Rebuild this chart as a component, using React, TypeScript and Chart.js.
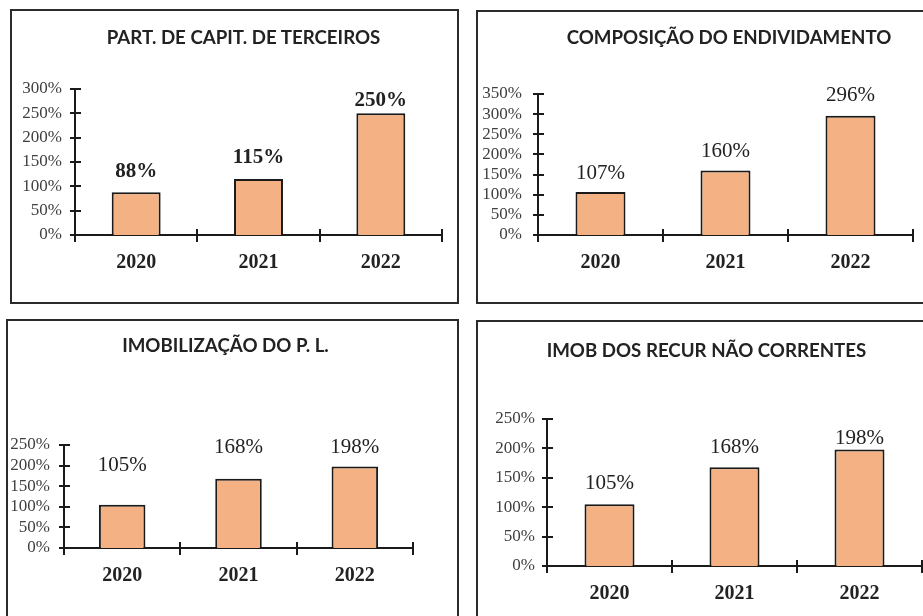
import React, { useEffect, useRef } from 'react';
import { Chart, registerables } from 'chart.js';

Chart.register(...registerables);

// ---------- data ----------
const YEARS = ['2020', '2021', '2022'];
const TITLES = [
  'PART. DE CAPIT. DE TERCEIROS',
  'COMPOSIÇÃO DO ENDIVIDAMENTO',
  'IMOBILIZAÇÃO DO P. L.',
  'IMOB DOS RECUR NÃO CORRENTES',
];
const PART_CAPIT_TERCEIROS = [88, 115, 250];
const COMPOSICAO_ENDIVIDAMENTO = [107, 160, 296];
const IMOBILIZACAO_PL = [105, 168, 198];
const IMOB_RECUR_NAO_CORRENTES = [105, 168, 198];
const SERIES = [PART_CAPIT_TERCEIROS, COMPOSICAO_ENDIVIDAMENTO, IMOBILIZACAO_PL, IMOB_RECUR_NAO_CORRENTES];
const Y_MAX = [300, 350, 250, 250];
const Y_STEP = 50;

// ---------- layout / style ----------
const SERIF = '"Liberation Serif", "Times New Roman", serif';
const BAR_FILL = '#F4B183';
const INK = '#1a1a1a';
const BORDER = 2;

type Layout = {
  box: { left: number; top: number; width: number; height: number };
  area: { left: number; top: number; right: number; bottom: number };
  title: { cx: number; cy: number };
  valueBold: boolean;
  labelGaps: number[];
  yPad: number;
};

const LAYOUT: Layout[] = [
  { box: { left: 10, top: 9, width: 449, height: 295 }, area: { left: 75, top: 89, right: 442, bottom: 235 }, title: { cx: 243.5, cy: 37 }, valueBold: true, labelGaps: [15, 16, 7], yPad: 13 },
  { box: { left: 476, top: 10, width: 470, height: 294 }, area: { left: 538, top: 94, right: 913, bottom: 235 }, title: { cx: 729, cy: 37 }, valueBold: false, labelGaps: [13, 14, 15], yPad: 16 },
  { box: { left: 6, top: 319, width: 453, height: 400 }, area: { left: 64, top: 445, right: 413, bottom: 548 }, title: { cx: 225.5, cy: 345 }, valueBold: false, labelGaps: [34, 26, 13], yPad: 14 },
  { box: { left: 476, top: 320, width: 470, height: 400 }, area: { left: 547, top: 419, right: 922, bottom: 566 }, title: { cx: 706.5, cy: 350 }, valueBold: false, labelGaps: [15, 14, 6], yPad: 12 },
];

const X_AXIS_H = 40;

const crossTicks = {
  id: 'crossTicks',
  afterDraw(chart: any) {
    const { ctx, chartArea } = chart;
    const x = chart.scales.x;
    const y = chart.scales.y;
    ctx.save();
    ctx.strokeStyle = INK;
    ctx.lineWidth = 2;
    ctx.beginPath();
    y.ticks.forEach((t: any) => {
      const py = Math.round(y.getPixelForValue(t.value));
      ctx.moveTo(chartArea.left - 5, py);
      ctx.lineTo(chartArea.left + 6, py);
    });
    const n = chart.data.labels.length;
    for (let i = 0; i <= n; i++) {
      const px = Math.round(x.getPixelForValue(i - 0.5));
      ctx.moveTo(px, chartArea.bottom - 6);
      ctx.lineTo(px, chartArea.bottom + 7);
    }
    ctx.stroke();
    ctx.restore();
  },
};

const valueLabels = {
  id: 'valueLabels',
  afterDatasetsDraw(chart: any, _args: any, opts: any) {
    const { ctx } = chart;
    const meta = chart.getDatasetMeta(0);
    const values = chart.data.datasets[0].data;
    ctx.save();
    ctx.font = `${opts.bold ? 'bold ' : ''}21px ${SERIF}`;
    ctx.fillStyle = '#222';
    ctx.textAlign = 'center';
    ctx.textBaseline = 'alphabetic';
    meta.data.forEach((bar: any, i: number) => {
      const { x, y } = bar.getProps(['x', 'y'], true);
      ctx.fillText(`${values[i]}%`, x, y - opts.gaps[i]);
    });
    ctx.restore();
  },
};

function Panel({ idx }: { idx: number }) {
  const ref = useRef<HTMLCanvasElement>(null);
  const L = LAYOUT[idx];
  const cw = L.box.width - 2 * BORDER;
  const ch = L.box.height - 2 * BORDER;
  const cLeft = L.box.left + BORDER;
  const cTop = L.box.top + BORDER;

  useEffect(() => {
    if (!ref.current) return;
    const yAxisW = L.area.left - cLeft;
    const padRight = cw - (L.area.right - cLeft);
    const padTop = L.area.top - cTop;
    const padBottom = ch - (L.area.bottom - cTop) - X_AXIS_H;
    const chart = new Chart(ref.current, {
      type: 'bar',
      data: {
        labels: YEARS,
        datasets: [
          {
            data: SERIES[idx],
            backgroundColor: BAR_FILL,
            borderColor: INK,
            borderWidth: 2,
            barPercentage: 0.4,
            categoryPercentage: 1.0,
          },
        ],
      },
      options: {
        responsive: false,
        animation: false,
        layout: { padding: { left: 0, right: padRight, top: padTop, bottom: padBottom } },
        plugins: {
          legend: { display: false },
          title: { display: false },
          tooltip: { enabled: false },
          valueLabels: { bold: L.valueBold, gaps: L.labelGaps },
        } as any,
        scales: {
          x: {
            grid: { display: false, drawTicks: false, offset: true },
            border: { display: true, color: INK, width: 2 },
            ticks: {
              color: '#222',
              padding: 16,
              font: { family: SERIF, size: 20, weight: 'bold' },
            },
            afterFit(scale: any) {
              scale.height = X_AXIS_H;
            },
          },
          y: {
            min: 0,
            max: Y_MAX[idx],
            grid: { display: false, drawTicks: false },
            border: { display: true, color: INK, width: 2 },
            ticks: {
              stepSize: Y_STEP,
              autoSkip: false,
              color: '#404040',
              padding: L.yPad,
              font: { family: SERIF, size: 17 },
              callback: (v: any) => `${v}%`,
            },
            afterFit(scale: any) {
              scale.width = yAxisW;
            },
          },
        },
      },
      plugins: [crossTicks, valueLabels],
    });
    return () => chart.destroy();
  }, [idx]);

  return (
    <>
      <div
        style={{
          position: 'absolute',
          left: L.box.left,
          top: L.box.top,
          width: L.box.width,
          height: L.box.height,
          boxSizing: 'border-box',
          border: `${BORDER}px solid #2b2b2b`,
          background: '#fff',
        }}
      >
        <canvas ref={ref} width={cw} height={ch} style={{ position: 'absolute', left: 0, top: 0, width: cw, height: ch }} />
      </div>
      <div
        style={{
          position: 'absolute',
          left: L.title.cx - 250,
          top: L.title.cy - 10.5,
          width: 500,
          height: 20,
          lineHeight: '20px',
          textAlign: 'center',
          fontFamily: 'Lato, "Open Sans", sans-serif',
          fontWeight: 'bold',
          fontSize: 18.7,
          color: '#222',
          whiteSpace: 'nowrap',
        }}
      >
        {TITLES[idx]}
      </div>
    </>
  );
}

export default function App() {
  return (
    <div style={{ position: 'fixed', left: 0, top: 0, width: 923, height: 616, overflow: 'hidden', background: '#fff' }}>
      {LAYOUT.map((_, i) => (
        <Panel key={i} idx={i} />
      ))}
    </div>
  );
}
